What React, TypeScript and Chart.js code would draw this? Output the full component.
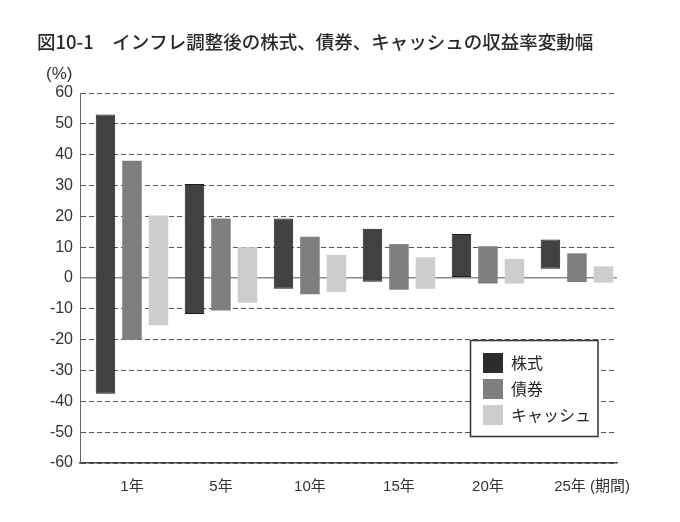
import React, { useEffect, useRef } from "react";
import { Chart, registerables } from "chart.js";

Chart.register(...registerables);

const TITLE = "図10-1　インフレ調整後の株式、債券、キャッシュの収益率変動幅";
const UNIT = "(%)";
const categories = ["1年", "5年", "10年", "15年", "20年", "25年 (期間)"];
const seriesNames = ["株式", "債券", "キャッシュ"];
const stockHigh = [53, 30.5, 19.3, 16, 14.3, 12.5];
const stockLow = [-37.5, -11.7, -3.5, -1.2, 0.3, 3];
const bondHigh = [38, 19.3, 13.4, 11, 10.3, 8];
const bondLow = [-20, -10.5, -5.3, -3.8, -1.8, -1.3];
const cashHigh = [20.3, 10, 7.5, 6.7, 6.2, 3.8];
const cashLow = [-15.3, -8, -4.5, -3.5, -1.8, -1.5];
const yTicksMin = -60;
const yTicksMax = 60;
const yStep = 10;

const colors = ["#414141", "#7e7e7e", "#cdcdcd"];
const borders = ["#1c1c1c", "#7e7e7e", "#cdcdcd"];

const toData = (lo: number[], hi: number[]) =>
  categories.map((_, i) => ({ x: i, y: [lo[i], hi[i]] }));

// the last label carries the "(期間)" suffix, so it is nudged right to keep "25年" under its group
const labelPos = (i: number) => i + (i === categories.length - 1 ? 0.17 : 0);

const decorPlugin = {
  id: "decor",
  afterDraw(chart: any) {
    const { ctx, chartArea } = chart;
    ctx.save();
    // title
    ctx.fillStyle = "#2a2a2a";
    ctx.font = '500 18.5px "Noto Sans CJK JP"';
    ctx.textBaseline = "middle";
    ctx.textAlign = "left";
    ctx.fillText(TITLE, 29, 34);
    // unit
    ctx.font = '17px "Liberation Sans"';
    ctx.fillStyle = "#333";
    ctx.fillText(UNIT, chartArea.left - 34, chartArea.top - 19);
    // legend
    const bx = 462.5, by = 332.5, bw = 127.5, bh = 96;
    ctx.fillStyle = "#ffffff";
    ctx.fillRect(bx, by, bw, bh);
    ctx.strokeStyle = "#333";
    ctx.lineWidth = 1.5;
    ctx.strokeRect(bx, by, bw, bh);
    chart.data.datasets.forEach((ds: any, i: number) => {
      const sy = 345 + i * 26;
      ctx.fillStyle = i === 0 ? "#2c2c2c" : ds.backgroundColor;
      ctx.fillRect(475, sy, 20, 20);
      ctx.fillStyle = "#222";
      ctx.font = '16px "Noto Sans CJK JP"';
      ctx.fillText(ds.label, 503, sy + 10);
    });
    ctx.restore();
  },
};

export default function App() {
  const ref = useRef<HTMLCanvasElement>(null);
  useEffect(() => {
    if (!ref.current) return;
    const lows = [stockLow, bondLow, cashLow];
    const highs = [stockHigh, bondHigh, cashHigh];
    const chart = new Chart(ref.current, {
      type: "bar",
      data: {
        datasets: seriesNames.map((name, k) => ({
          label: name,
          data: toData(lows[k], highs[k]) as any,
          backgroundColor: colors[k],
          borderColor: borders[k],
          borderWidth: k === 0 ? 1 : 0,
          borderSkipped: false,
          categoryPercentage: 0.893,
          barPercentage: 0.736,
          xAxisID: "x",
          yAxisID: "y",
        })),
      },
      options: {
        animation: false,
        responsive: true,
        maintainAspectRatio: false,
        layout: { padding: { top: 85, left: 25, right: 55, bottom: 0 } },
        plugins: {
          legend: { display: false },
          title: { display: false },
          tooltip: { enabled: false },
        },
        scales: {
          x: {
            type: "linear",
            display: false,
            offset: false,
            min: -0.584,
            max: 5.45,
            afterBuildTicks: (s: any) => {
              s.ticks = categories.map((_, i) => ({ value: i }));
            },
          },
          xt: {
            type: "linear",
            position: "bottom",
            offset: false,
            min: -0.584,
            max: 5.45,
            afterBuildTicks: (s: any) => {
              s.ticks = categories.map((_, i) => ({ value: labelPos(i) }));
            },
            afterFit: (s: any) => {
              s.height = 51;
            },
            grid: { display: false, drawTicks: false, offset: false },
            border: { display: true, color: "#444", width: 1.5 },
            ticks: {
              padding: 15,
              autoSkip: false,
              maxRotation: 0,
              color: "#333",
              font: { family: '"Liberation Sans", "Noto Sans CJK JP", sans-serif', size: 15 },
              callback: (_v: any, i: number) => categories[i],
            },
          },
          y: {
            min: yTicksMin,
            max: yTicksMax,
            afterFit: (s: any) => {
              s.width = 47;
            },
            ticks: {
              stepSize: yStep,
              padding: 7,
              color: "#333",
              font: { family: '"Liberation Sans", sans-serif', size: 16 },
            },
            grid: {
              drawTicks: false,
              color: (c: any) => (c.tick && c.tick.value === 0 ? "#8c8c8c" : "#555"),
              lineWidth: (c: any) => (c.tick && c.tick.value === 0 ? 1.5 : 1),
            },
            border: {
              display: true,
              color: "#666",
              width: 1,
              dash: (c: any) => (c.tick && c.tick.value !== 0 ? [5, 3] : []),
            },
          },
        },
      },
      plugins: [decorPlugin],
    });
    return () => chart.destroy();
  }, []);
  return (
    <div style={{ width: 664, height: 506, position: "relative" }}>
      <canvas ref={ref} />
    </div>
  );
}
